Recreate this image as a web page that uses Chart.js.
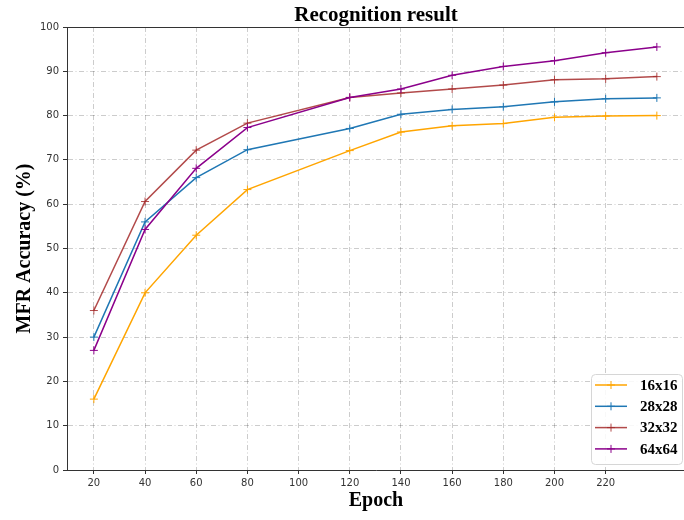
<!DOCTYPE html>
<html>
<head>
<meta charset="utf-8">
<script src="https://cdn.jsdelivr.net/npm/chart.js@4"></script>
<style>
  html, body { margin: 0; padding: 0; background: #fff; overflow: hidden; }
  canvas { display: block; }
</style>
</head>
<body>
<canvas id="chart" width="690" height="520"></canvas>
<script>
// accuracy per epoch for each input resolution
const epochs = [20, 40, 60, 80, 120, 140, 160, 180, 200, 220, 240];
const acc16 = [16, 40, 53, 63.3, 72.1, 76.3, 77.7, 78.2, 79.6, 79.9, 80];
const acc28 = [30, 56, 66, 72.3, 77.1, 80.3, 81.4, 82, 83.1, 83.8, 84];
const acc32 = [36, 60.6, 72.2, 78.3, 84.1, 85.1, 86, 86.9, 88.1, 88.3, 88.8];
const acc64 = [27, 54.3, 68.1, 77.3, 84.1, 86, 89.1, 91.1, 92.4, 94.2, 95.5];
const seriesNames = ['16x16', '28x28', '32x32', '64x64'];
const xTicks = [20, 40, 60, 80, 100, 120, 140, 160, 180, 200, 220];

const serif = "'Liberation Serif', 'Times New Roman', serif";
const sans = "'DejaVu Sans', sans-serif";

function makeSet(label, values, color, order) {
  return {
    label: label,
    data: epochs.map((e, i) => ({ x: e, y: values[i] })),
    borderColor: color,
    backgroundColor: color,
    borderWidth: 1.5,
    pointStyle: 'cross',
    pointRadius: 4,
    pointBorderWidth: 1,
    pointHoverRadius: 4,
    tension: 0,
    order: order
  };
}

// title over the plot area plus the top frame line
const frameAndTitle = {
  id: 'frameAndTitle',
  afterDraw(chart) {
    const ctx = chart.ctx;
    const a = chart.chartArea;
    ctx.save();
    ctx.strokeStyle = '#333';
    ctx.lineWidth = 1;
    ctx.beginPath();
    ctx.moveTo(a.left, a.top + 0.5);
    ctx.lineTo(a.right, a.top + 0.5);
    ctx.stroke();
    ctx.fillStyle = '#000';
    ctx.font = 'bold 21px ' + serif;
    ctx.textAlign = 'center';
    ctx.textBaseline = 'alphabetic';
    ctx.fillText('Recognition result', (a.left + a.right) / 2, 21);
    ctx.restore();
  }
};

// legend box in the lower right corner
const cornerLegend = {
  id: 'cornerLegend',
  afterDraw(chart) {
    const ctx = chart.ctx;
    const sets = chart.data.datasets;
    const x = 591, y = 374, w = 91, h = 90, r = 4;
    ctx.save();
    ctx.fillStyle = 'rgba(255,255,255,0.85)';
    ctx.strokeStyle = '#d6d6d6';
    ctx.lineWidth = 1;
    ctx.beginPath();
    ctx.roundRect(x + 0.5, y + 0.5, w, h, r);
    ctx.fill();
    ctx.stroke();
    sets.forEach((ds, i) => {
      const cy = 385 + i * 21.3;
      ctx.strokeStyle = ds.borderColor;
      ctx.lineWidth = 1.5;
      ctx.beginPath();
      ctx.moveTo(595, cy);
      ctx.lineTo(627, cy);
      ctx.stroke();
      ctx.lineWidth = 1;
      ctx.beginPath();
      ctx.moveTo(611, cy - 4);
      ctx.lineTo(611, cy + 4);
      ctx.moveTo(607, cy);
      ctx.lineTo(615, cy);
      ctx.stroke();
      ctx.fillStyle = '#000';
      ctx.font = 'bold 15px ' + serif;
      ctx.textAlign = 'left';
      ctx.textBaseline = 'middle';
      ctx.fillText(ds.label, 640, cy + 1);
    });
    ctx.restore();
  }
};

const ctx = document.getElementById('chart').getContext('2d');
const accChart = new Chart(ctx, {
  type: 'line',
  data: {
    datasets: [
      makeSet(seriesNames[0], acc16, '#ffa500', 3),
      makeSet(seriesNames[1], acc28, '#1f77b4', 2),
      makeSet(seriesNames[2], acc32, 'rgba(165,42,42,0.85)', 1),
      makeSet(seriesNames[3], acc64, '#8b008b', 0)
    ]
  },
  options: {
    responsive: false,
    animation: false,
    layout: { padding: { top: 27, right: 0, left: 0, bottom: 0 } },
    plugins: {
      legend: { display: false },
      title: { display: false },
      tooltip: { enabled: false }
    },
    scales: {
      x: {
        type: 'linear',
        min: 9.5,
        max: 251,
        afterBuildTicks(scale) {
          scale.ticks = xTicks.map(v => ({ value: v }));
        },
        afterFit(scale) { scale.height = 50; },
        ticks: { font: { family: sans, size: 10 }, color: '#333', padding: 3, maxRotation: 0, autoSkip: false },
        grid: {
          color: 'rgba(0,0,0,0.2)',
          lineWidth: 1,
          tickLength: 4,
          tickColor: '#333',
          tickBorderDash: []
        },
        border: { color: '#333', width: 1, dash: [5, 2.5, 1, 2.5] },
        title: {
          display: true,
          text: 'Epoch',
          font: { family: serif, size: 20, weight: 'bold' },
          color: '#000',
          padding: { top: 0, bottom: 7 }
        }
      },
      y: {
        min: 0,
        max: 100,
        afterFit(scale) { scale.width = 67; },
        ticks: { stepSize: 10, font: { family: sans, size: 10 }, color: '#333', padding: 4 },
        grid: {
          color: 'rgba(0,0,0,0.2)',
          lineWidth: 1,
          tickLength: 4,
          tickColor: '#333',
          tickBorderDash: []
        },
        border: { color: '#333', width: 1, dash: [5, 2.5, 1, 2.5] },
        title: {
          display: true,
          text: 'MFR Accuracy (%)',
          font: { family: serif, size: 20, weight: 'bold' },
          color: '#000',
          padding: { top: 13, bottom: 0 }
        }
      }
    }
  },
  plugins: [frameAndTitle, cornerLegend]
});
</script>
</body>
</html>
